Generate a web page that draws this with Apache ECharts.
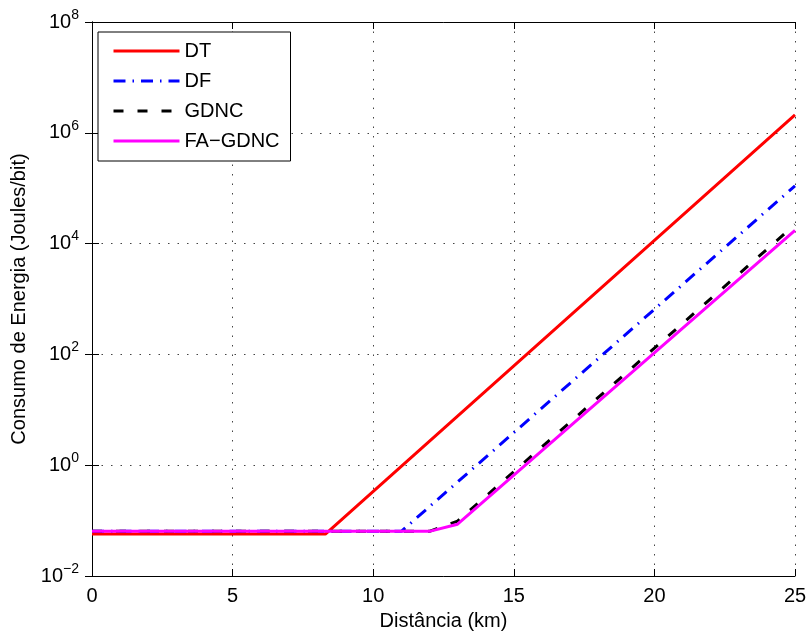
<!DOCTYPE html>
<html>
<head>
<meta charset="utf-8">
<script src="https://cdn.jsdelivr.net/npm/echarts@6/dist/echarts.min.js"></script>
<style>
html,body{margin:0;padding:0;background:#fff;}
#chart{width:811px;height:636px;}
</style>
</head>
<body>
<div id="chart"></div>
<script>
// Data (x in km, y in Joules/bit)
const seriesNames = ['DT', 'DF', 'GDNC', 'FA\u2212GDNC'];
const dtX = [0, 8.3, 25];
const dtY = [0.057, 0.057, 2.1e6];
const dfX = [0, 11, 25];
const dfY = [0.064, 0.064, 1.1e5];
const gdncX = [0, 12, 13, 25];
const gdncY = [0.064, 0.064, 0.098, 2.2e4];
const fagdncX = [0, 12, 13, 25];
const fagdncY = [0.064, 0.064, 0.086, 1.74e4];
const xTicks = [0, 5, 10, 15, 20, 25];
const yTickExponents = [-2, 0, 2, 4, 6, 8];

const FONT = 'Liberation Sans, Arial, Helvetica, sans-serif';
const FS = 20;
const pairs = (xs, ys) => xs.map((x, i) => [x, ys[i]]);

const chart = echarts.init(document.getElementById('chart'), null, {renderer: 'canvas'});

const gridLine = {show: true, lineStyle: {color: '#444', width: 1, type: [1.5, 8]}};
const axisLineStyle = {show: true, lineStyle: {color: '#000', width: 1}};
const tickStyle = {show: true, inside: true, length: 7, lineStyle: {color: '#000', width: 1}};

const option = {
  animation: false,
  backgroundColor: '#fff',
  grid: {left: 92, right: 16, top: 22, bottom: 58, containLabel: false},
  legend: {
    orient: 'vertical',
    left: 98, top: 32,
    padding: [9, 6, 10, 14],
    itemWidth: 66, itemHeight: 20, itemGap: 10,
    backgroundColor: '#fff',
    borderColor: '#000', borderWidth: 1,
    itemStyle: {opacity: 0, borderWidth: 0},
    lineStyle: {width: 3},
    textStyle: {fontFamily: FONT, fontSize: FS, color: '#000', lineHeight: 20, width: 100},
    data: seriesNames
  },
  xAxis: [
    {
      type: 'value', min: xTicks[0], max: xTicks[xTicks.length - 1], interval: 5,
      name: 'Dist\u00e2ncia (km)', nameLocation: 'middle', nameGap: 35,
      nameTextStyle: {fontFamily: FONT, fontSize: FS, color: '#000'},
      axisLine: axisLineStyle, axisTick: tickStyle,
      axisLabel: {fontFamily: FONT, fontSize: FS, color: '#000', margin: 10},
      splitLine: gridLine
    },
    {
      type: 'value', position: 'top', min: xTicks[0], max: xTicks[xTicks.length - 1], interval: 5,
      axisLine: axisLineStyle, axisTick: tickStyle,
      axisLabel: {show: false}, splitLine: {show: false}
    }
  ],
  yAxis: [
    {
      type: 'log', logBase: 10, min: Math.pow(10, yTickExponents[0]), max: Math.pow(10, yTickExponents[yTickExponents.length - 1]), interval: 2,
      name: 'Consumo de Energia (Joules/bit)', nameLocation: 'middle', nameGap: 60,
      nameTextStyle: {fontFamily: FONT, fontSize: FS, color: '#000'},
      axisLine: axisLineStyle, axisTick: tickStyle,
      minorTick: {show: false},
      axisLabel: {
        margin: 13,
        formatter: function (v) {
          const e = Math.round(Math.log10(v));
          return '{b|10}{s|' + (e < 0 ? '\u2212' + (-e) : e) + '}';
        },
        rich: {
          b: {fontFamily: FONT, fontSize: FS, color: '#000'},
          s: {fontFamily: FONT, fontSize: 14, color: '#000', padding: [0, 0, 14, 0]}
        }
      },
      splitLine: gridLine
    },
    {
      type: 'log', logBase: 10, position: 'right', min: Math.pow(10, yTickExponents[0]), max: Math.pow(10, yTickExponents[yTickExponents.length - 1]), interval: 2,
      axisLine: axisLineStyle, axisTick: tickStyle,
      axisLabel: {show: false}, splitLine: {show: false}
    }
  ],
  series: [
    {name: seriesNames[0], type: 'line', data: pairs(dtX, dtY), symbol: 'none',
     lineStyle: {color: '#ff0000', width: 3, type: 'solid'}, itemStyle: {color: '#ff0000'}},
    {name: seriesNames[1], type: 'line', data: pairs(dfX, dfY), symbol: 'none',
     lineStyle: {color: '#0000ff', width: 3, type: [12, 7, 1.5, 7]}, itemStyle: {color: '#0000ff'}},
    {name: seriesNames[2], type: 'line', data: pairs(gdncX, gdncY), symbol: 'none',
     lineStyle: {color: '#000000', width: 3, type: [10, 14]}, itemStyle: {color: '#000000'}},
    {name: seriesNames[3], type: 'line', data: pairs(fagdncX, fagdncY), symbol: 'none',
     lineStyle: {color: '#ff00ff', width: 3, type: 'solid'}, itemStyle: {color: '#ff00ff'}}
  ]
};
chart.setOption(option);
</script>
</body>
</html>
